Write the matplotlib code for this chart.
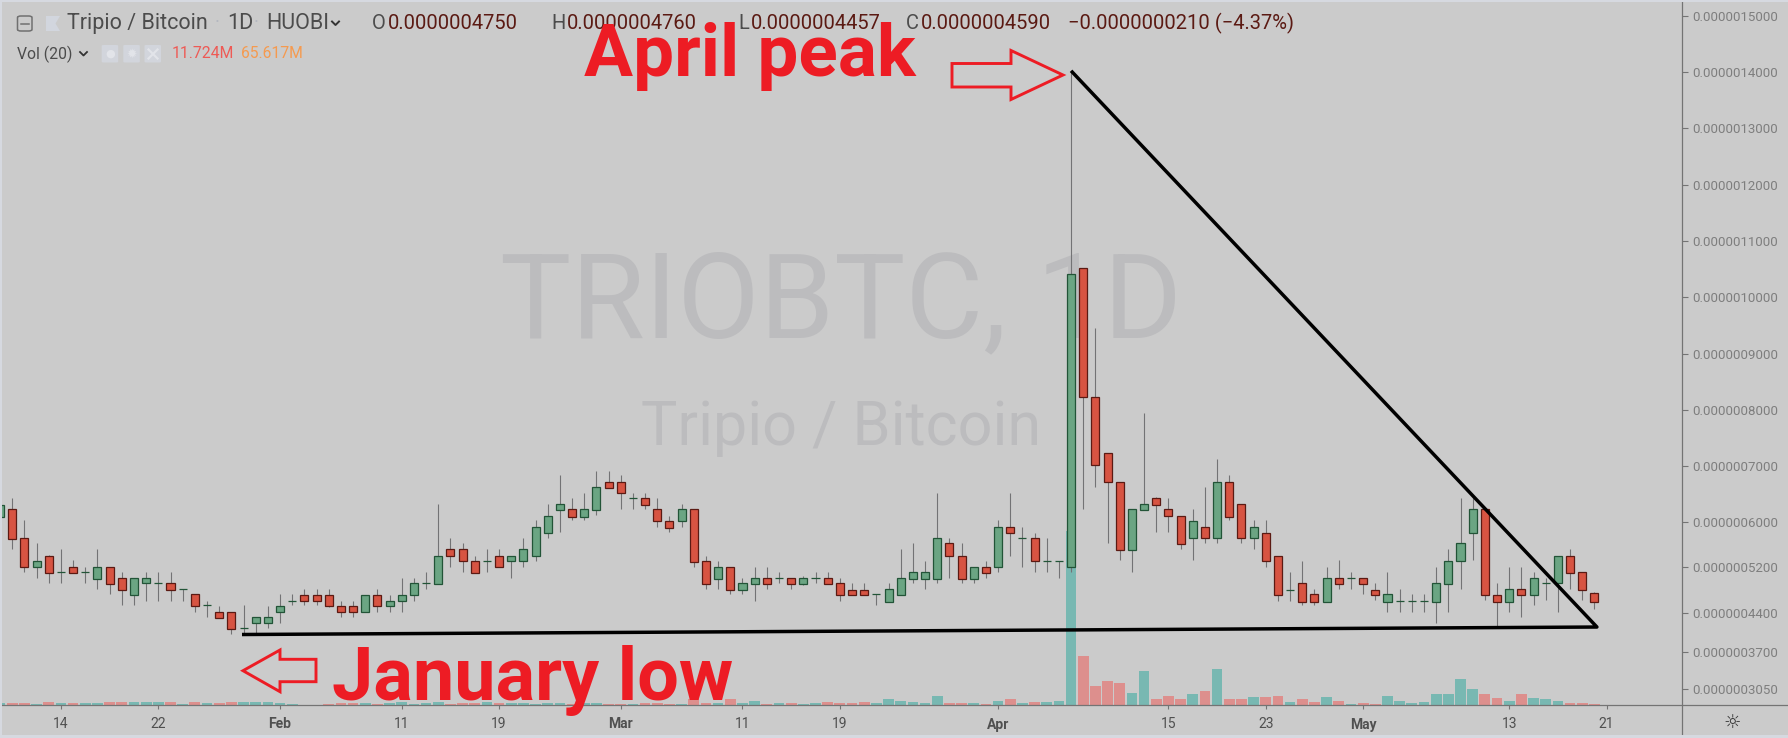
import matplotlib
matplotlib.use("Agg")
import matplotlib.pyplot as plt
import matplotlib.dates as mdates
from matplotlib.patches import Polygon, FancyBboxPatch, Rectangle
from matplotlib.lines import Line2D
import pandas as pd
import numpy as np

plt.rcParams['font.family'] = ['Roboto', 'DejaVu Sans']

# ---------------- data (prices in units of 1e-10 BTC, volume in millions) -------------
first_day, last_day = "2019-01-09", "2019-05-20"
opens = [6101, 6233, 5723, 5203, 5403, 5114, 5208, 5114, 4995, 5208,
         5013, 4711, 4919, 4919, 4919, 4812, 4723, 4528, 4404, 4404,
         4119, 4208, 4208, 4404, 4610, 4711, 4711, 4711, 4515, 4515,
         4404, 4711, 4515, 4599, 4711, 4919, 4906, 5522, 5522, 5315,
         5315, 5403, 5315, 5315, 5403, 5817, 6220, 6233, 6101, 6220,
         6723, 6723, 6428, 6428, 6233, 6025, 6025, 6233, 5315, 4995,
         5203, 4800, 4906, 5007, 5007, 5007, 4906, 5007, 5007, 4919,
         4800, 4800, 4723, 4592, 4711, 4995, 4995, 4995, 5629, 5403,
         4995, 5203, 5203, 5918, 5718, 5718, 5315, 5315, 5203, 10513,
         8222, 7227, 6723, 5510, 6220, 6428, 6233, 6114, 5718, 5918,
         5718, 6723, 6322, 5718, 5817, 5403, 4800, 4919, 4723, 4592,
         5007, 5007, 5007, 4800, 4592, 4610, 4610, 4610, 4592, 4906,
         5315, 5817, 6233, 4711, 4592, 4812, 4711, 4919, 4919, 5403,
         5114, 4750]
highs = [6400, 6439, 6043, 5640, 5420, 5530, 5330, 5213, 5530, 5208,
         5114, 5013, 5114, 5114, 5114, 4812, 4723, 4610, 4515, 4404,
         4528, 4315, 4515, 4723, 4723, 4812, 4812, 4812, 4610, 4610,
         4711, 4812, 4711, 5007, 5007, 5114, 6322, 5718, 5629, 5403,
         5522, 5522, 5403, 5728, 6043, 6322, 6842, 6428, 6528, 6918,
         6918, 6842, 6517, 6528, 6428, 6114, 6322, 6233, 5403, 5315,
         5203, 5007, 5213, 5213, 5114, 5007, 5050, 5114, 5114, 5007,
         4919, 4919, 4723, 4919, 5522, 5629, 5315, 6528, 5728, 5629,
         5203, 5315, 6043, 6528, 5918, 5817, 5728, 5315, 14022, 10513,
         9447, 7227, 6723, 6233, 7938, 6450, 6428, 6114, 6233, 6634,
         7126, 6842, 6322, 6043, 6043, 5403, 5125, 5315, 4812, 5213,
         5332, 5114, 5007, 4919, 5114, 4812, 4723, 4723, 5213, 5522,
         6428, 6428, 6233, 4919, 5213, 5213, 5114, 5013, 5403, 5522,
         5114, 4760]
lows = [6050, 5522, 5125, 5013, 4919, 4919, 5107, 4919, 4812, 4723,
        4528, 4528, 4610, 4610, 4610, 4610, 4414, 4325, 4308, 4018,
        4031, 4031, 4119, 4219, 4528, 4528, 4528, 4503, 4325, 4325,
        4404, 4414, 4414, 4414, 4610, 4812, 4906, 5213, 5125, 5107,
        5125, 5203, 5007, 5213, 5315, 5728, 5835, 6043, 6043, 6132,
        6616, 6233, 6233, 6233, 5924, 5835, 5924, 5213, 4812, 4812,
        4723, 4723, 4610, 4812, 4919, 4812, 4880, 4919, 4906, 4610,
        4711, 4711, 4528, 4592, 4711, 4919, 4812, 4919, 5007, 4919,
        4919, 5007, 5125, 5403, 5213, 5125, 5125, 5007, 5125, 6233,
        6634, 5640, 5332, 5125, 6220, 5835, 5835, 5522, 5332, 5629,
        5629, 6043, 5629, 5522, 5213, 4610, 4610, 4528, 4528, 4592,
        4812, 4812, 4723, 4622, 4414, 4414, 4414, 4414, 4219, 4414,
        4812, 5332, 4622, 4137, 4414, 4325, 4528, 4622, 4414, 4812,
        4622, 4457]
closes = [6309, 5711, 5203, 5315, 5107, 5114, 5107, 5114, 5208, 4906,
          4800, 5013, 5013, 4919, 4800, 4812, 4515, 4528, 4308, 4107,
          4119, 4315, 4315, 4515, 4610, 4599, 4599, 4515, 4404, 4404,
          4711, 4515, 4610, 4711, 4919, 4919, 5403, 5403, 5315, 5107,
          5315, 5203, 5403, 5522, 5918, 6114, 6322, 6101, 6233, 6634,
          6616, 6517, 6428, 6309, 6025, 5906, 6233, 5302, 4906, 5203,
          4800, 4919, 5007, 4906, 5007, 4906, 5007, 5007, 4906, 4711,
          4711, 4711, 4723, 4812, 5007, 5114, 5114, 5718, 5403, 4995,
          5203, 5107, 5918, 5817, 5718, 5315, 5315, 5315, 10406, 8222,
          7020, 6712, 5510, 6233, 6322, 6309, 6114, 5617, 6025, 5718,
          6723, 6101, 5718, 5918, 5315, 4711, 4800, 4592, 4592, 5007,
          4906, 5007, 4906, 4711, 4723, 4610, 4610, 4610, 4919, 5315,
          5629, 6233, 4711, 4592, 4812, 4711, 5007, 4919, 5403, 5107,
          4800, 4590]
volumes_m = [16, 16, 16, 7, 28, 16, 16, 16, 16, 28,
             28, 28, 28, 28, 28, 7, 28, 16, 16, 28,
             28, 28, 28, 16, 7, 3, 3, 7, 16, 16,
             16, 7, 16, 28, 7, 16, 28, 7, 16, 16,
             28, 16, 16, 16, 7, 16, 16, 7, 16, 16,
             7, 7, 7, 16, 16, 7, 7, 54, 16, 16,
             54, 16, 41, 7, 16, 16, 7, 16, 28, 16,
             16, 28, 16, 54, 41, 28, 19, 88, 19, 19,
             19, 9, 41, 54, 19, 28, 28, 41, 1641, 465,
             182, 229, 205, 110, 323, 54, 88, 54, 101, 135,
             337, 54, 54, 78, 78, 88, 31, 54, 31, 78,
             41, 9, 19, 9, 88, 41, 19, 28, 101, 101,
             242, 148, 101, 66, 41, 101, 66, 54, 41, 19,
             19, 11.724]
UNIT = 1e-10

tick_dates = ["2019-01-14", "2019-01-22", "2019-02-01", "2019-02-11", "2019-02-19",
              "2019-03-01", "2019-03-11", "2019-03-19", "2019-04-01", "2019-04-15",
              "2019-04-23", "2019-05-01", "2019-05-13", "2019-05-21"]
tick_labels = ["14", "22", "Feb", "11", "19", "Mar", "11", "19", "Apr", "15",
               "23", "May", "13", "21"]
month_labels = {"Feb", "Mar", "Apr", "May"}
price_ticks = [15000, 14000, 13000, 12000, 11000, 10000, 9000, 8000, 7000, 6000,
               5200, 4400, 3700, 3050]

header_ohlc = [("O", "0.0000004750"), ("H", "0.0000004760"),
               ("L", "0.0000004457"), ("C", "0.0000004590")]
header_change = "−0.0000000210 (−4.37%)"
vol_last, vol_ma = "11.724M", "65.617M"

# trend-line anchor points (date, price in 1e-10)
low_line_start = ("2019-01-28 21:00", 4009)
apex = ("2019-05-20 05:00", 4142)
peak_index = 88  # April 7 candle

# ---------------- styling ----------------
W, H, DPI = 1788, 738, 100
BG = "#cbcbcb"
UP_FILL, UP_EDGE = "#6ba583", "#225437"
DN_FILL, DN_EDGE = "#d75442", "#5b1a13"
WICK = "#737375"
VOL_UP, VOL_DN = "#78b8b2", "#dd8f8d"
RED = "#ed1c24"
AXIS_LINE = "#747474"

fig = plt.figure(figsize=(W / DPI, H / DPI), dpi=DPI, facecolor=BG)

def fx(x):
    return x / W

def fy(y):
    return 1 - y / H

AX_R, AX_T, AX_B = 1682, 2, 705
ax = fig.add_axes([0, fy(AX_B), fx(AX_R), (AX_B - AX_T) / H])
axv = ax.twinx()
ax.set_zorder(2)
axv.set_zorder(1)
ax.patch.set_visible(False)
axv.patch.set_facecolor(BG)

dates = pd.date_range(first_day, last_day, freq="D")
x = mdates.date2num(dates)
o = np.array(opens) * UNIT
h = np.array(highs) * UNIT
l = np.array(lows) * UNIT
c = np.array(closes) * UNIT
v = np.array(volumes_m, dtype=float)
up = c >= o

day0 = mdates.date2num(pd.Timestamp("2019-01-14"))
ax.set_xlim(day0 - 5.01, day0 + 133.2)
ax.set_ylim(2757 * UNIT, 15244 * UNIT)
axv.set_ylim(0, 6630)

# volume
axv.bar(x, v, width=0.88, color=np.where(up, VOL_UP, VOL_DN), linewidth=0, zorder=1)

# candles
ax.vlines(x, l, h, color=WICK, lw=0.8, zorder=2)
ax.bar(x, c - o, bottom=o, width=0.66,
       color=np.where(up, UP_FILL, DN_FILL),
       edgecolor=np.where(up, UP_EDGE, DN_EDGE), linewidth=0.9, zorder=3)

# watermark (pane-centred)
def ax_frac_y(py):
    return (AX_B - py) / (AX_B - AX_T)

ax.text(0.5, ax_frac_y(337), "TRIOBTC, 1D", transform=ax.transAxes, ha="center",
        va="baseline", fontsize=86, color="#bcbcbe", zorder=1)
ax.text(0.5, ax_frac_y(445), "Tripio / Bitcoin", transform=ax.transAxes, ha="center",
        va="baseline", fontsize=44, color="#bcbcbe", zorder=1)

# trend lines
xs = [mdates.date2num(pd.Timestamp(low_line_start[0])), mdates.date2num(pd.Timestamp(apex[0])), x[peak_index]]
ys = [low_line_start[1] * UNIT, apex[1] * UNIT, h[peak_index]]
ax.plot(xs, ys, color="black", lw=2.5, solid_joinstyle="round", solid_capstyle="butt", zorder=6)

# axes / ticks
for sp in list(ax.spines.values()) + list(axv.spines.values()):
    sp.set_visible(False)
axv.set_yticks([])
ax.yaxis.tick_right()
ax.set_yticks([p * UNIT for p in price_ticks])
ax.set_yticklabels([f"{p * UNIT:.10f}" for p in price_ticks])
ax.tick_params(axis="y", direction="out", length=4.3, width=0.8, color=AXIS_LINE,
               pad=3, labelsize=9.5, labelcolor="#7e7e7e")
ax.set_xticks(mdates.date2num(pd.to_datetime(tick_dates)))
ax.set_xticklabels(tick_labels)
ax.tick_params(axis="x", direction="out", length=3, width=0.8, color=AXIS_LINE,
               pad=6, labelsize=10, labelcolor="#505050")
for t in ax.get_xticklabels():
    if t.get_text() in month_labels:
        t.set_fontweight("bold")

# frame lines
fig.add_artist(Line2D([0, 1], [fy(AX_B), fy(AX_B)], transform=fig.transFigure,
                      color=AXIS_LINE, lw=0.9, zorder=5))
fig.add_artist(Line2D([fx(AX_R), fx(AX_R)], [0, 1], transform=fig.transFigure,
                      color=AXIS_LINE, lw=0.9, zorder=5))

def ftext(px, py, s, **kw):
    kw.setdefault("va", "center")
    kw.setdefault("ha", "left")
    kw.setdefault("zorder", 10)
    return fig.text(fx(px), fy(py), s, **kw)

def fpoly(pts, **kw):
    poly = Polygon([(fx(a), fy(b)) for a, b in pts], closed=True,
                   transform=fig.transFigure, **kw)
    fig.add_artist(poly)

def fline(pts, **kw):
    fig.add_artist(Line2D([fx(a) for a, b in pts], [fy(b) for a, b in pts],
                          transform=fig.transFigure, **kw))

renderer = fig.canvas.get_renderer()

def text_width(t):
    return t.get_window_extent(renderer=renderer).width

# header row
TXT = "#4c4c4c"
VAL = "#5b1a13"
box = FancyBboxPatch((fx(17.5), fy(31)), fx(14.5), 15 / H,
                     boxstyle="round,pad=0,rounding_size=0.002",
                     transform=fig.transFigure, fill=False, edgecolor="#707070", lw=1.1, zorder=10)
fig.add_artist(box)
fline([(20.5, 23.7), (29, 23.7)], color="#707070", lw=1.1, zorder=10)
fpoly([(46, 16), (60, 16), (55.5, 23.5), (60, 31), (46, 31)], facecolor="#d2d6de",
      edgecolor="none", zorder=10)
ftext(67, 23.5, "Tripio / Bitcoin", fontsize=15.5, color=TXT)
ftext(215, 23.5, "·", fontsize=14, color="#b4b8c0")
ftext(227, 23.5, "1D", fontsize=15.5, color=TXT)
ftext(254, 23.5, "·", fontsize=14, color="#b4b8c0")
ftext(266, 23.5, "HUOBI", fontsize=15.5, color=TXT)
fline([(332, 21.5), (335.5, 25), (339, 21.5)], color="#333333", lw=1.4, zorder=10)

for (lab, val), hx in zip(header_ohlc, (372, 551, 738, 906)):
    t = ftext(hx, 23.5, lab, fontsize=14.5, color=TXT)
    ftext(hx + text_width(t) + 2, 23.5, val, fontsize=14.5, color=VAL)
ftext(1068, 23.5, header_change, fontsize=14.5, color=VAL)

# vol row
ftext(17, 54, "Vol (20)", fontsize=11.3, color=TXT)
fline([(80, 52), (83.5, 55.5), (87, 52)], color="#333333", lw=1.3, zorder=10)
for bx in (101.7, 123.3, 144.5):
    b = FancyBboxPatch((fx(bx), fy(62.5)), fx(16.5), 17.5 / H,
                       boxstyle="round,pad=0,rounding_size=0.001",
                       transform=fig.transFigure, facecolor="#d2d5dc", edgecolor="none", zorder=10)
    fig.add_artist(b)
ftext(110, 54, "●", fontsize=8, color="#e2e4e9", ha="center")
ftext(131.5, 54, "✹", fontsize=9, color="#e2e4e9", ha="center")
fline([(148.5, 49.5), (157.5, 58.5)], color="#e2e4e9", lw=1.6, zorder=11)
fline([(148.5, 58.5), (157.5, 49.5)], color="#e2e4e9", lw=1.6, zorder=11)
ftext(172, 54, vol_last, fontsize=11.3, color="#ee5a55")
ftext(241, 54, vol_ma, fontsize=11.3, color="#f59a4f")

# annotations
ftext(584, 76, "April peak", fontsize=52.5, fontweight="bold", color=RED, va="baseline")
ftext(332, 700, "January low", fontsize=53.2, fontweight="bold", color=RED, va="baseline")
fpoly([(952, 63.5), (1011, 63.5), (1011, 50.5), (1063, 75), (1011, 99.5), (1011, 87), (952, 87)],
      fill=False, edgecolor=RED, lw=2.1, joinstyle="miter", zorder=12)
fpoly([(316, 659.3), (280, 659.3), (280, 650), (243, 670.7), (280, 691.7), (280, 681.7), (316, 681.7)],
      fill=False, edgecolor=RED, lw=2.1, joinstyle="miter", zorder=12)

# settings icon
ftext(1732, 722, "☼", fontsize=14, color="#333333", ha="center", family=["DejaVu Sans"])

# thin light border
BORDER = "#d6d9e0"
fig.add_artist(Rectangle((0, fy(2)), 1, 2 / H, transform=fig.transFigure,
                         facecolor=BORDER, edgecolor="none", zorder=20))
fig.add_artist(Rectangle((0, 0), 1, 3 / H, transform=fig.transFigure,
                         facecolor=BORDER, edgecolor="none", zorder=20))
fig.add_artist(Rectangle((0, 0), 2 / W, 1, transform=fig.transFigure,
                         facecolor=BORDER, edgecolor="none", zorder=20))

fig.savefig("out.png", dpi=DPI, facecolor=BG)
